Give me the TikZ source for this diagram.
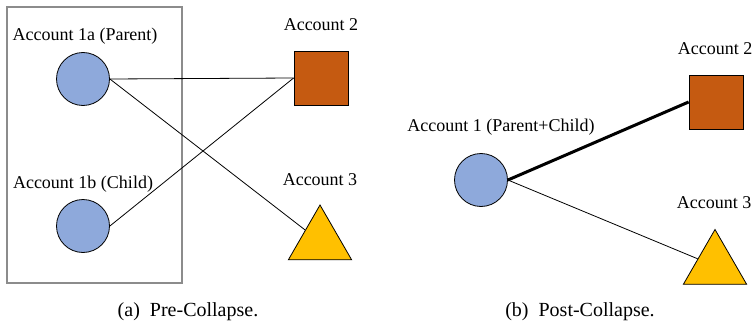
\documentclass[tikz,border=0pt]{standalone}
\usepackage{fontspec}
\setmainfont{Liberation Serif}
\usetikzlibrary{shapes.geometric}
\definecolor{nodeblue}{HTML}{8EA9DB}
\definecolor{nodeorange}{HTML}{C55A11}
\definecolor{nodegold}{HTML}{FFC000}
\definecolor{framegray}{HTML}{8C8C8C}
\tikzset{
  acctnode/.style={circle, draw=black, line width=0.8pt, fill=nodeblue, minimum size=53pt, inner sep=0pt},
  sqnode/.style={rectangle, draw=black, line width=0.8pt, fill=nodeorange, minimum size=54pt, inner sep=0pt},
  trinode/.style={regular polygon, regular polygon sides=3, draw=black, line width=0.8pt, fill=nodegold, minimum size=73pt, inner sep=0pt},
  lbltext/.style={font=\fontsize{18}{20}\selectfont, inner sep=0pt},
  captext/.style={font=\fontsize{20}{22}\selectfont, inner sep=0pt},
  thinlink/.style={line width=0.8pt},
  heavylink/.style={line width=3pt},
}
\begin{document}
\begin{tikzpicture}[x=1pt, y=-1pt]
\useasboundingbox (0,0) rectangle (754,326);
% group frame
\node[draw=framegray, line width=1.2pt, minimum width=175pt, minimum height=276pt, inner sep=0pt] (grp) at (94.5,145) {};
% (a) Pre-Collapse
\node[acctnode] (a1a) at (83,79) {};
\node[acctnode] (a1b) at (83,226) {};
\node[sqnode] (a2) at (321,78) {};
\node[trinode] (a3) at (320,241.5) {};
\node[lbltext] (l1a) at (85,36) {Account 1a (Parent)};
\node[lbltext] (l1b) at (83,184) {Account 1b (Child)};
\node[lbltext] (l2) at (321,25) {Account 2};
\node[lbltext] (l3) at (320,180) {Account 3};
\draw[thinlink] (a1a.east) -- (a2.west);
\draw[thinlink] (a1a.east) -- (a3);
\draw[thinlink] (a1b.east) -- (a2.west);
\node[captext] (capa) at (188,312) {(a)\hspace{0.5em}Pre-Collapse.};
% (b) Post-Collapse
\node[acctnode] (b1) at (481,180) {};
\node[sqnode] (b2) at (716,102) {};
\node[trinode] (b3) at (715,266) {};
\node[lbltext] (m1) at (501,127) {Account 1 (Parent+Child)};
\node[lbltext] (m2) at (715,49) {Account 2};
\node[lbltext] (m3) at (714,203) {Account 3};
\draw[heavylink] (b1.east) -- (b2.west);
\draw[thinlink] (b1.east) -- (b3);
\node[captext] (capb) at (580,312) {(b)\hspace{0.5em}Post-Collapse.};
\end{tikzpicture}
\end{document}
